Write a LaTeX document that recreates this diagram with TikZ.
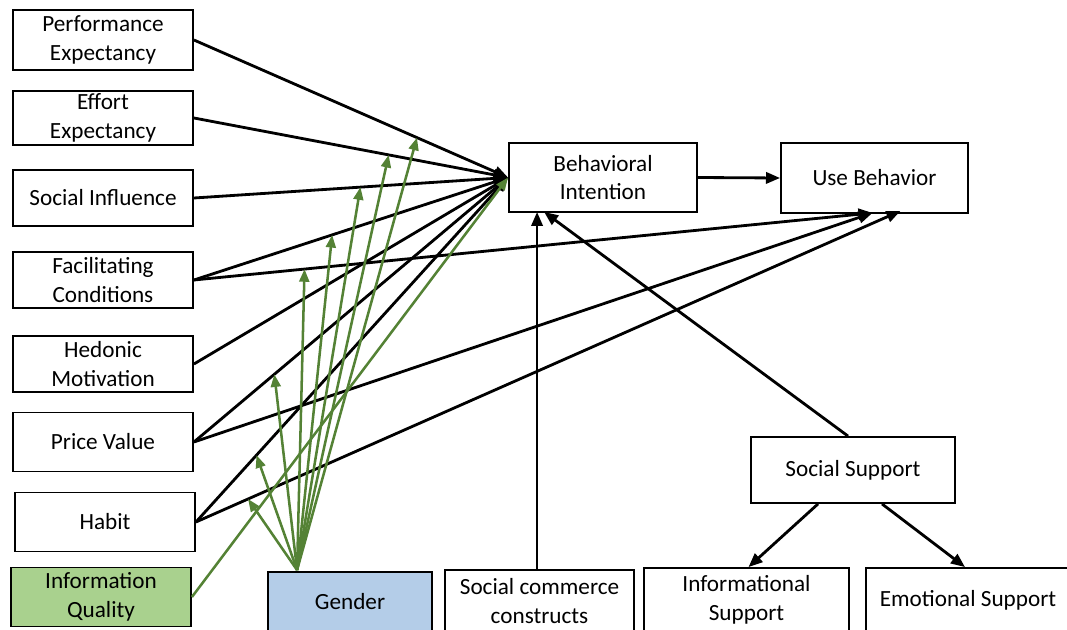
\documentclass[tikz,border=0pt]{standalone}
\usepackage{fontspec}
\setmainfont{Carlito}
\usetikzlibrary{arrows.meta,calc}
\definecolor{modgreen}{HTML}{548235}
\definecolor{iqfill}{HTML}{A9D18E}
\definecolor{genfill}{HTML}{B4CDE8}
\begin{document}
\begin{tikzpicture}[x=0.025cm,y=-0.025cm,
  box/.style={draw, line width=1.3pt, inner sep=0pt, align=center,
    font=\fontsize{16.5}{20.5}\selectfont},
  leftbox/.style={box, minimum width=4.5cm},
  link/.style={line width=2pt, -{Triangle[length=10pt,width=8pt]}},
  modlink/.style={line width=1.8pt, draw=modgreen, -{Triangle[length=9pt,width=7pt]}}]
\useasboundingbox (0,0) rectangle (1067,630);

% UTAUT2 constructs
\node[leftbox, minimum height=1.5cm]  (pe)  at (103,40)  {Performance\\Expectancy};
\node[leftbox, minimum height=1.35cm] (ee)  at (103,118) {Effort\\Expectancy};
\node[leftbox, minimum height=1.4cm]  (si)  at (103,198) {Social Influence};
\node[leftbox, minimum height=1.4cm]  (fc)  at (103,280) {Facilitating\\Conditions};
\node[leftbox, minimum height=1.4cm]  (hm)  at (103,364) {Hedonic\\Motivation};
\node[leftbox, minimum height=1.475cm] (pv) at (103,442) {Price Value};
\node[leftbox, minimum height=1.475cm] (hab) at (105,522) {Habit};
\node[leftbox, minimum height=1.475cm, fill=iqfill] (iq) at (101,597) {Information\\Quality};

% outcomes
\node[box, minimum width=4.7cm, minimum height=1.725cm] (bi) at (603,177.5) {Behavioral\\Intention};
\node[box, minimum width=4.675cm, minimum height=1.75cm] (ub) at (874.5,178) {Use Behavior};

% moderator and extensions
\node[box, minimum width=4.1cm, minimum height=1.5cm, fill=genfill] (gen) at (350,602) {Gender};
\node[box, minimum width=4.725cm, minimum height=1.55cm] (sc) at (539.5,601) {Social commerce\\constructs};
\node[box, minimum width=5.1cm, minimum height=1.65cm] (ss) at (853,470) {Social Support};
\node[box, minimum width=5.125cm, minimum height=1.6cm] (is) at (746.5,600) {Informational\\Support};
\node[box, minimum width=5.1cm, minimum height=1.6cm] (es) at (968,600) {Emotional Support};

% arrow targets on box edges
\coordinate (ubA) at ($(ub.south)+(-2,-1)$);
\coordinate (ubB) at ($(ub.south)+(26,-3)$);
\coordinate (biS) at ($(bi.south west)+(29,-1)$);
\coordinate (biD) at ($(bi.south west)+(36,-1)$);
\coordinate (gsrc) at ($(gen.north west)+(30,-1)$);

% paths into Behavioral Intention
\draw[link] (pe.east)  -- (bi.west);
\draw[link] (ee.east)  -- (bi.west);
\draw[link] (si.east)  -- (bi.west);
\draw[link] (fc.east)  -- (bi.west);
\draw[link] (hm.east)  -- (bi.west);
\draw[link] (pv.east)  -- (bi.west);
\draw[link] (hab.east) -- (bi.west);

% paths into Use Behavior
\draw[link] (fc.east)  -- (ubA);
\draw[link] (pv.east)  -- (ubA);
\draw[link] (hab.east) -- (ubB);
\draw[link] (bi.east)  -- (ub.west);

% extensions
\draw[link] (biS |- sc.north) -- (biS);
\draw[link] ($(ss.north)+(-5,0)$) -- (biD);
\draw[link] ($(ss.south)+(-35,0)$) -- ($(is.north)+(2,0)$);
\draw[link] ($(ss.south)+(29,0)$) -- ($(es.north)+(-3,0)$);

% moderation points on the paths
\path (pe.east)  -- (bi.west) coordinate[pos=0.71]  (mpe);
\path (ee.east)  -- (bi.west) coordinate[pos=0.62]  (mee);
\path (si.east)  -- (bi.west) coordinate[pos=0.53]  (msi);
\path (fc.east)  -- (bi.west) coordinate[pos=0.44]  (mfc);
\path (fc.east)  -- (ubA)     coordinate[pos=0.163] (mfu);
\path (pv.east)  -- (bi.west) coordinate[pos=0.256] (mpv);
\path (hab.east) -- (bi.west) coordinate[pos=0.194] (mhb);
\path (hab.east) -- (ubB)     coordinate[pos=0.074] (mhu);

% gender moderation
\foreach \m in {mpe,mee,msi,mfc,mfu,mpv,mhb,mhu}
  \draw[modlink] (gsrc) -- (\m);

% information quality
\draw[modlink] (iq.east) -- (bi.west);
\end{tikzpicture}
\end{document}
